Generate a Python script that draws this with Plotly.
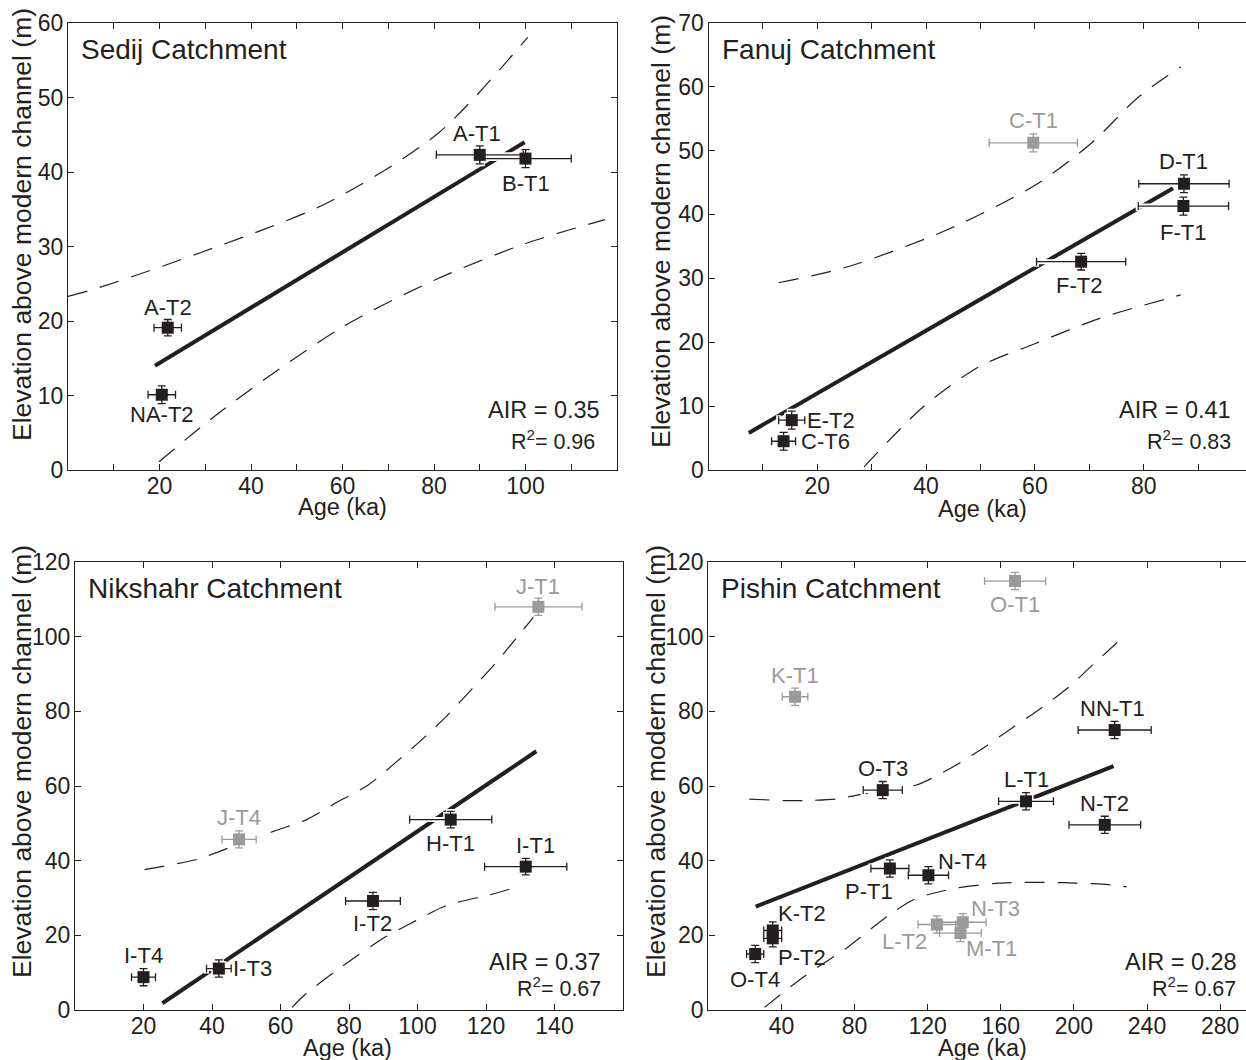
import plotly.graph_objects as go

W, H = 1246, 1060
FONT = "Liberation Sans, Arial, Helvetica, sans-serif"
INK = "#231f20"
GRAY = "#9a9a9a"

# ---------------- Sedij ----------------
sed_names = ["A-T2", "NA-T2", "A-T1", "B-T1"]
sed_age = [21.8, 20.5, 90.0, 100.0]
sed_age_err = [3.0, 3.0, 9.5, 10.0]
sed_elev = [19.1, 10.1, 42.3, 41.8]
sed_elev_err = [1.1, 1.2, 1.2, 1.2]
sed_gray = [False, False, False, False]
sed_fit_age = [19.0, 99.8]
sed_fit_elev = [14.0, 44.0]
sed_up_age = [0.0, 6.9, 28.6, 56.5, 80.9, 100.5]
sed_up_elev = [23.3, 24.5, 29.1, 35.8, 45.2, 58.1]
sed_lo_age = [19.9, 33.9, 60.0, 80.9, 100.0, 117.4]
sed_lo_elev = [1.1, 8.1, 19.2, 25.7, 30.4, 33.6]
sed_air, sed_r2 = "0.35", "0.96"

# ---------------- Fanuj ----------------
fan_names = ["C-T1", "D-T1", "F-T1", "F-T2", "E-T2", "C-T6"]
fan_age = [59.7, 87.4, 87.3, 68.5, 15.3, 13.8]
fan_age_err = [8.1, 8.3, 8.3, 8.2, 2.4, 2.2]
fan_elev = [51.2, 44.8, 41.3, 32.6, 7.8, 4.5]
fan_elev_err = [1.4, 1.4, 1.4, 1.3, 1.4, 1.4]
fan_gray = [True, False, False, False, False, False]
fan_fit_age = [7.4, 85.4]
fan_fit_elev = [5.8, 44.1]
fan_up_age = [12.9, 25.6, 43.9, 60.1, 70.3, 79.1, 86.8]
fan_up_elev = [29.3, 31.8, 37.6, 44.6, 51.1, 58.4, 63.1]
fan_lo_age = [28.6, 39.5, 49.8, 60.1, 71.8, 86.8]
fan_lo_elev = [0.5, 9.9, 16.2, 19.8, 23.7, 27.4]
fan_air, fan_r2 = "0.41", "0.83"

# ---------------- Nikshahr ----------------
nik_names = ["J-T1", "J-T4", "H-T1", "I-T1", "I-T2", "I-T3", "I-T4"]
nik_age = [135.3, 47.9, 109.7, 131.6, 87.0, 42.0, 20.0]
nik_age_err = [12.7, 5.0, 12.0, 12.0, 8.0, 3.6, 3.5]
nik_elev = [108.0, 45.7, 51.0, 38.4, 29.2, 11.1, 8.8]
nik_elev_err = [2.3, 2.3, 2.2, 2.2, 2.3, 2.3, 2.3]
nik_gray = [True, True, False, False, False, False, False]
nik_fit_age = [25.5, 134.7]
nik_fit_elev = [1.8, 69.3]
nik_up_age = [20.3, 35.9, 42.8, 59.0, 67.6, 77.4, 85.5, 93.5, 101.6, 108.5, 116.0, 122.4, 129.9, 134.5]
nik_up_elev = [37.6, 40.4, 42.7, 48.2, 51.0, 56.1, 60.2, 66.2, 72.7, 78.7, 86.1, 92.5, 100.8, 105.9]
nik_lo_age = [63.4, 67.0, 77.4, 90.7, 99.3, 108.5, 121.2, 129.3]
nik_lo_elev = [0.7, 4.0, 11.3, 19.6, 23.8, 28.0, 30.9, 33.0]
nik_air, nik_r2 = "0.37", "0.67"

# ---------------- Pishin ----------------
pis_names = ["O-T1", "K-T1", "NN-T1", "O-T3", "L-T1", "N-T2", "P-T1", "N-T4",
             "K-T2", "P-T2", "O-T4", "L-T2", "N-T3", "M-T1"]
pis_age = [167.8, 47.4, 222.3, 95.4, 173.8, 216.9, 99.3, 120.4,
           35.2, 35.2, 25.6, 125.0, 139.2, 137.9]
pis_age_err = [16.7, 7.0, 20.0, 10.7, 15.0, 19.6, 10.4, 11.0,
               4.9, 4.9, 4.7, 10.3, 12.8, 11.4]
pis_elev = [114.9, 83.9, 75.0, 58.9, 55.9, 49.6, 37.9, 36.1,
            21.3, 19.2, 15.0, 22.9, 23.5, 20.6]
pis_elev_err = [2.3, 2.3, 2.3, 2.3, 2.3, 2.3, 2.3, 2.3,
                2.3, 2.3, 2.3, 2.3, 2.3, 2.3]
pis_gray = [True, True, False, False, False, False, False, False,
            False, False, False, True, True, True]
pis_fit_age = [25.9, 221.7]
pis_fit_elev = [27.7, 65.3]
pis_up_age = [22.4, 41.5, 52.5, 69.9, 82.9, 113.4, 133.0, 148.3, 164.6, 181.0, 196.2, 210.4, 225.0]
pis_up_elev = [56.5, 56.1, 56.1, 56.5, 57.7, 60.2, 64.9, 69.5, 75.0, 80.5, 86.1, 92.5, 99.0]
pis_lo_age = [30.7, 52.4, 76.4, 98.2, 113.4, 135.2, 157.0, 174.4, 194.0, 215.8, 228.9]
pis_lo_elev = [0.7, 9.0, 16.9, 25.2, 29.8, 32.6, 33.9, 34.2, 34.1, 33.7, 33.0]
pis_air, pis_r2 = "0.28", "0.67"

# ---------------- ticks ----------------
sed_xticks = [20, 40, 60, 80, 100]
sed_xminor = [10, 30, 50, 70, 90, 110]
sed_yticks = [0, 10, 20, 30, 40, 50, 60]
fan_xticks = [20, 40, 60, 80]
fan_xminor = [10, 30, 50, 70, 90]
fan_yticks = [0, 10, 20, 30, 40, 50, 60, 70]
nik_xticks = [20, 40, 60, 80, 100, 120, 140]
nik_xminor = []
nik_yticks = [0, 20, 40, 60, 80, 100, 120]
pis_xticks = [40, 80, 120, 160, 200, 240, 280]
pis_xminor = []
pis_yticks = [0, 20, 40, 60, 80, 100, 120]

# ---------------- layout geometry (pixels) ----------------
panels = [
    dict(name="Sedij Catchment", names=sed_names, age=sed_age, aerr=sed_age_err,
         elev=sed_elev, eerr=sed_elev_err, gray=sed_gray,
         fit=(sed_fit_age, sed_fit_elev), up=(sed_up_age, sed_up_elev), lo=(sed_lo_age, sed_lo_elev),
         air=sed_air, r2=sed_r2, xt=sed_xticks, xm=sed_xminor, yt=sed_yticks,
         box=(68, 617, 23, 470), xr=120, yr=60, mirror_y=True,
         ytitle=(22, 225), xtitle=(342, 507), air_pos=(602, 410, 597, 440)),
    dict(name="Fanuj Catchment", names=fan_names, age=fan_age, aerr=fan_age_err,
         elev=fan_elev, eerr=fan_elev_err, gray=fan_gray,
         fit=(fan_fit_age, fan_fit_elev), up=(fan_up_age, fan_up_elev), lo=(fan_lo_age, fan_lo_elev),
         air=fan_air, r2=fan_r2, xt=fan_xticks, xm=fan_xminor, yt=fan_yticks,
         box=(708.5, 1246, 22.7, 470), xr=(1246 - 708.5) / 5.44, yr=70, mirror_y=False,
         ytitle=(661, 232), xtitle=(982, 509), air_pos=(1233, 410, 1233, 440)),
    dict(name="Nikshahr Catchment", names=nik_names, age=nik_age, aerr=nik_age_err,
         elev=nik_elev, eerr=nik_elev_err, gray=nik_gray,
         fit=(nik_fit_age, nik_fit_elev), up=(nik_up_age, nik_up_elev), lo=(nik_lo_age, nik_lo_elev),
         air=nik_air, r2=nik_r2, xt=nik_xticks, xm=nik_xminor, yt=nik_yticks,
         box=(75, 623, 562, 1010), xr=160, yr=120, mirror_y=True,
         ytitle=(22, 762), xtitle=(348, 1048), air_pos=(603, 962, 603, 987)),
    dict(name="Pishin Catchment", names=pis_names, age=pis_age, aerr=pis_age_err,
         elev=pis_elev, eerr=pis_elev_err, gray=pis_gray,
         fit=(pis_fit_age, pis_fit_elev), up=(pis_up_age, pis_up_elev), lo=(pis_lo_age, pis_lo_elev),
         air=pis_air, r2=pis_r2, xt=pis_xticks, xm=pis_xminor, yt=pis_yticks,
         box=(708.4, 1246, 562, 1010), xr=(1246 - 708.4) / 1.8275, yr=120, mirror_y=False,
         ytitle=(656, 762), xtitle=(982, 1048), air_pos=(1239, 962, 1238, 987)),
]

# label placement (pixel offsets from marker centre, anchor)
label_place = {
    "A-T2": (0, 20, "center"), "NA-T2": (0, -20, "center"), "A-T1": (-3, 21, "center"), "B-T1": (0, -25, "center"),
    "C-T1": (0, 22, "center"), "D-T1": (0, 22, "center"), "F-T1": (0, -26, "center"), "F-T2": (-2, -24, "center"),
    "E-T2": (13, 0, "left"), "C-T6": (15, 0, "left"),
    "J-T1": (0, 20, "center"), "J-T4": (0, 22, "center"), "H-T1": (0, -24, "center"), "I-T1": (10, 21, "center"),
    "I-T2": (0, -23, "center"), "I-T3": (12, 0, "left"), "I-T4": (0, 22, "center"),
    "O-T1": (0, -23, "center"), "K-T1": (0, 21, "center"), "NN-T1": (-2, 22, "center"), "O-T3": (0, 22, "center"),
    "L-T1": (0, 22, "center"), "N-T2": (0, 21, "center"), "P-T1": (-21, -23, "center"), "N-T4": (8, 14, "left"),
    "K-T2": (3, 17, "left"), "P-T2": (3, -19, "left"), "O-T4": (0, -25, "center"), "L-T2": (-32, -17, "center"),
    "N-T3": (6, 14, "left"), "M-T1": (4, -15, "left"),
}

fig = go.Figure()
annotations = []
layout_axes = {}


def px_x(p):
    return p / W


def px_y(p):
    return (H - p) / H


for i, P in enumerate(panels):
    k = "" if i == 0 else str(i + 1)
    xa, ya = "x" + k, "y" + k
    l, r, t, b = P["box"]
    fig.add_trace(go.Scatter(x=P["fit"][0], y=P["fit"][1], mode="lines",
                             line=dict(color=INK, width=4), xaxis=xa, yaxis=ya,
                             showlegend=False, hoverinfo="skip"))
    for band in (P["up"], P["lo"]):
        fig.add_trace(go.Scatter(x=band[0], y=band[1], mode="lines",
                                 line=dict(color=INK, width=1.2, dash="20px,13px", shape="spline", smoothing=0.8),
                                 xaxis=xa, yaxis=ya, showlegend=False, hoverinfo="skip"))
    fig.add_trace(go.Scatter(x=P["age"], y=P["elev"], mode="markers",
                             marker=dict(symbol="square", size=15, color="white"),
                             error_x=dict(type="data", array=P["aerr"], color="white", thickness=5, width=5),
                             error_y=dict(type="data", array=P["eerr"], color="white", thickness=5, width=5),
                             xaxis=xa, yaxis=ya, showlegend=False, hoverinfo="skip"))
    for is_gray, col in ((False, INK), (True, GRAY)):
        idx = [j for j, g in enumerate(P["gray"]) if g == is_gray]
        if not idx:
            continue
        fig.add_trace(go.Scatter(
            x=[P["age"][j] for j in idx], y=[P["elev"][j] for j in idx], mode="markers",
            marker=dict(symbol="square", size=12, color=col),
            error_x=dict(type="data", array=[P["aerr"][j] for j in idx], color=col, thickness=1.3, width=4),
            error_y=dict(type="data", array=[P["eerr"][j] for j in idx], color=col, thickness=1.3, width=4),
            xaxis=xa, yaxis=ya, showlegend=False))
    for j, nm in enumerate(P["names"]):
        dx, dy, anc = label_place[nm]
        annotations.append(dict(x=P["age"][j], y=P["elev"][j], xref=xa, yref=ya, text=nm,
                                showarrow=False, xshift=dx, yshift=dy, xanchor=anc, yanchor="middle",
                                font=dict(family=FONT, size=22, color=GRAY if P["gray"][j] else INK)))
    axis_common = dict(showgrid=False, zeroline=False, showline=True, linecolor=INK, linewidth=1.3,
                       ticks="inside", ticklen=6, tickwidth=1.2, tickcolor=INK,
                       tickfont=dict(family=FONT, size=23, color=INK), automargin=False)
    xaxis = dict(axis_common, domain=[px_x(l), min(1.0, px_x(r))], range=[0, P["xr"]],
                 tickmode="array", tickvals=P["xt"], ticktext=[str(v) for v in P["xt"]],
                 mirror="ticks", anchor=ya, ticklabelstandoff=-5)
    if P["xm"]:
        xaxis["minor"] = dict(tickmode="array", tickvals=P["xm"], ticks="inside", ticklen=6,
                              tickwidth=1.2, tickcolor=INK, showgrid=False)
    layout_axes["xaxis" + k] = xaxis
    layout_axes["yaxis" + k] = dict(axis_common, domain=[px_y(b), px_y(t)], range=[0, P["yr"]],
                                    tickmode="array", tickvals=P["yt"], ticktext=[str(v) for v in P["yt"]],
                                    mirror="ticks" if P["mirror_y"] else False, anchor=xa,
                                    ticklabelstandoff=-1)
    annotations.append(dict(x=px_x(l + 11), y=px_y(t + 27), xref="paper", yref="paper",
                            text=P["name"], showarrow=False, xanchor="left", yanchor="middle",
                            font=dict(family=FONT, size=28, color=INK)))
    xt_x, xt_y = P["xtitle"]
    annotations.append(dict(x=px_x(xt_x), y=px_y(xt_y), xref="paper", yref="paper",
                            text="Age (ka)", showarrow=False, xanchor="center", yanchor="middle",
                            font=dict(family=FONT, size=23.5, color=INK)))
    yt_x, yt_y = P["ytitle"]
    annotations.append(dict(x=px_x(yt_x), y=px_y(yt_y), xref="paper", yref="paper",
                            text="Elevation above modern channel (m)", showarrow=False, textangle=-90,
                            xanchor="center", yanchor="middle",
                            font=dict(family=FONT, size=26.5, color=INK)))
    ax_, ay_, rx_, ry_ = P["air_pos"]
    annotations.append(dict(x=px_x(ax_), y=px_y(ay_), xref="paper", yref="paper",
                            text="AIR = " + P["air"], showarrow=False, xanchor="right", yanchor="middle",
                            font=dict(family=FONT, size=23.5, color=INK)))
    annotations.append(dict(x=px_x(rx_), y=px_y(ry_), xref="paper", yref="paper",
                            text="R<sup>2</sup>= " + P["r2"], showarrow=False, xanchor="right", yanchor="middle",
                            font=dict(family=FONT, size=21.5, color=INK)))

fig.update_layout(width=W, height=H, margin=dict(l=0, r=0, t=0, b=0),
                  paper_bgcolor="white", plot_bgcolor="white",
                  annotations=annotations, showlegend=False, **layout_axes)

fig.write_html("out.html", config={"displayModeBar": False},
               post_script="document.body.style.margin='0px';document.body.style.padding='0px';")
